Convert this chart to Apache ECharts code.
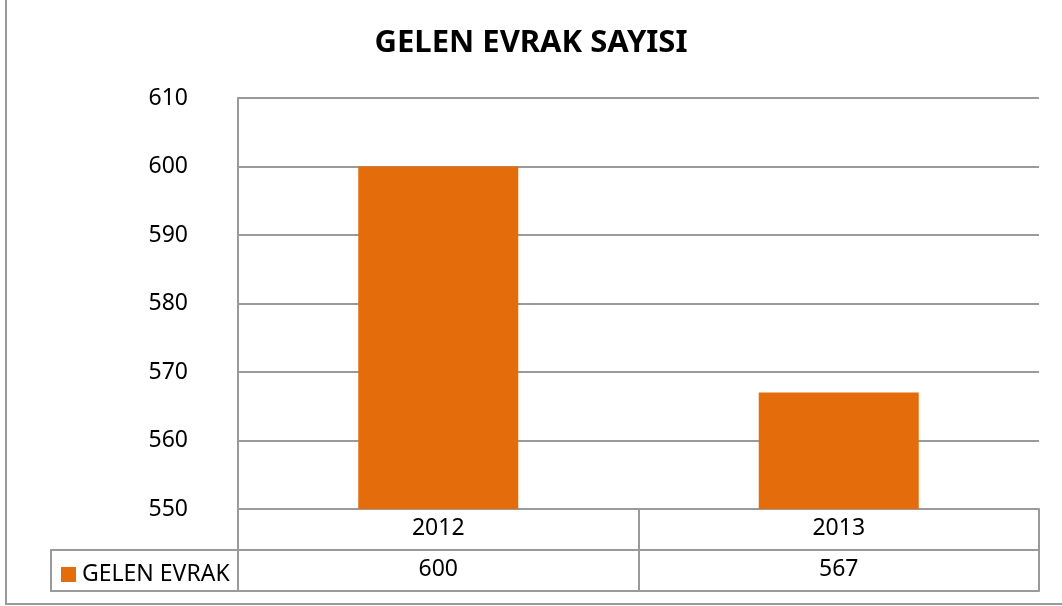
<!DOCTYPE html>
<html>
<head>
<meta charset="utf-8">
<script src="https://cdn.jsdelivr.net/npm/echarts@6/dist/echarts.min.js"></script>
<style>
  html,body{margin:0;padding:0;background:#fff;}
  #chart{width:1062px;height:606px;}
</style>
</head>
<body>
<div id="chart"></div>
<script>
// 数据
let titleText = "GELEN EVRAK SAYISI";
let seriesName = "GELEN EVRAK";
let categories = ["2012", "2013"];
let values = [600, 567];
let yMin = 550, yMax = 610, yStep = 10;

let lineColor = "#9a9a9a";
let barColor = "#E46C0A";
let font = "Noto Sans";

let myChart = echarts.init(document.getElementById("chart"));

let option = {
    backgroundColor: "#fff",
    animation: false,
    title: {
        text: titleText,
        left: "center",
        top: 23,
        textStyle: {fontFamily: font, fontWeight: "bold", fontSize: 31, color: "#000"}
    },
    legend: {
        data: [seriesName],
        left: 61,
        top: 563,
        padding: 0,
        icon: "rect",
        itemWidth: 15,
        itemHeight: 15,
        textStyle: {fontFamily: font, fontSize: 23, color: "#000", padding: [0, 0, 0, 1]}
    },
    grid: {left: 238, right: 23, top: 98, bottom: 97},
    xAxis: [
        {
            type: "category",
            data: categories,
            position: "bottom",
            axisLine: {show: true, lineStyle: {color: lineColor, width: 2}},
            axisTick: {show: true, length: 82, lineStyle: {color: lineColor, width: 2}},
            axisLabel: {fontFamily: font, fontSize: 23, color: "#000", margin: 8}
        },
        {
            // 数据表的值行
            type: "category",
            data: values.map(String),
            position: "bottom",
            offset: 41,
            axisLine: {show: true, lineStyle: {color: lineColor, width: 2}},
            axisTick: {show: false},
            axisLabel: {fontFamily: font, fontSize: 23, color: "#000", margin: 8}
        },
        {
            type: "category",
            data: categories,
            position: "bottom",
            offset: 82,
            axisLine: {show: true, lineStyle: {color: lineColor, width: 2}},
            axisTick: {show: false},
            axisLabel: {show: false}
        }
    ],
    yAxis: {
        type: "value",
        min: yMin,
        max: yMax,
        interval: yStep,
        axisLine: {show: true, lineStyle: {color: lineColor, width: 2}},
        axisTick: {show: false},
        splitLine: {show: true, lineStyle: {color: lineColor, width: 2}},
        axisLabel: {fontFamily: font, fontSize: 23, color: "#000", margin: 50}
    },
    series: [{
        name: seriesName,
        type: "bar",
        xAxisIndex: 0,
        data: values,
        barWidth: 160,
        itemStyle: {color: barColor}
    }],
    graphic: [
        {
            type: "rect",
            shape: {x: 6, y: -10, width: 1100, height: 614},
            style: {fill: null, stroke: lineColor, lineWidth: 2},
            silent: true
        },
        {
            type: "polyline",
            shape: {points: [[238, 550], [51, 550], [51, 591], [238, 591]]},
            style: {fill: null, stroke: lineColor, lineWidth: 2},
            silent: true
        }
    ]
};
myChart.setOption(option);
</script>
</body>
</html>
